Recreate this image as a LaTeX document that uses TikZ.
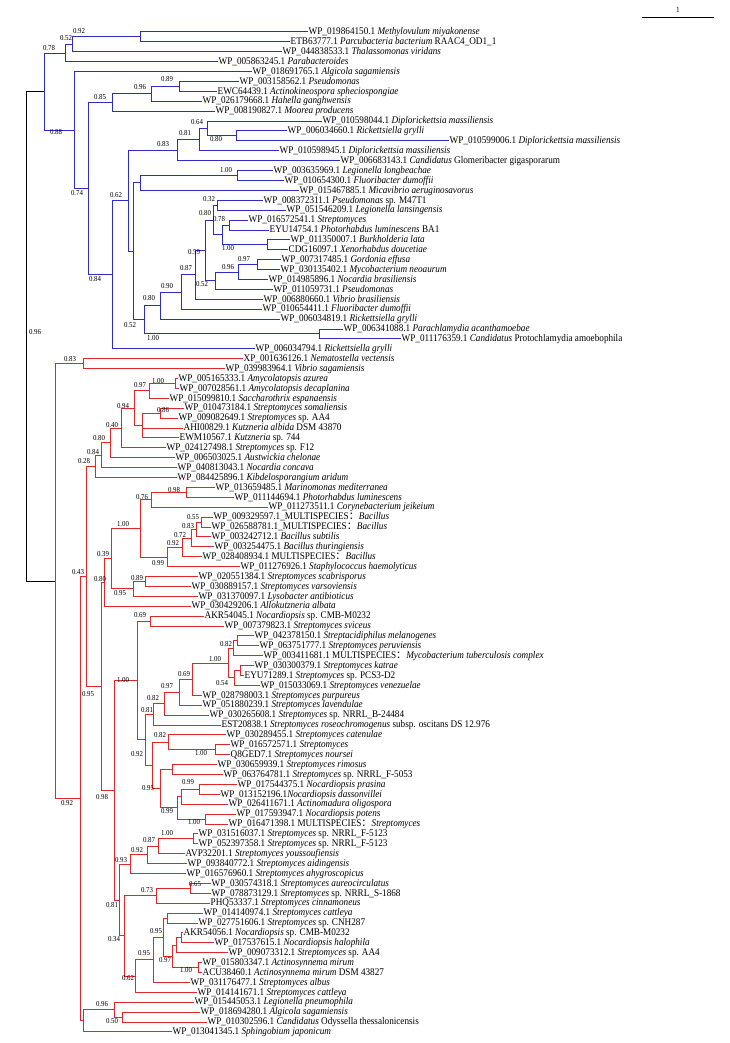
\documentclass[tikz,border=0pt]{standalone}
\usepackage{fontspec}
\setmainfont{Liberation Serif}[FakeStretch=0.9]
\newfontfamily\cjkf{Noto Sans CJK SC}
\usetikzlibrary{calc}
\definecolor{bl}{RGB}{45,45,205}
\definecolor{rd}{RGB}{225,40,40}
\newcommand\fwc{{\cjkf ：}}
\newcommand\nd[4]{\path let \p1=(#3), \p2=(#4) in coordinate (#1) at (#2pt,{0.5*(\y1+\y2)});}
\newcommand\leaf[3]{\coordinate (L#1) at (#2,{32+(#1-1)*9.9}); \node[lab] (t#1) at (L#1) {#3};}
\begin{document}
\begin{tikzpicture}[x=1pt,y=-1pt,
  lab/.style={anchor=west,inner sep=1pt,font=\fontsize{10.2}{11}\selectfont,text height=6.8pt,text depth=1.4pt},
  bs/.style={inner sep=0pt,font=\fontsize{7.6}{8}\selectfont},
  bbr/.style={draw=bl,line width=1pt},
  rbr/.style={draw=rd,line width=1pt},
  kbr/.style={draw=black,line width=1pt}]
\useasboundingbox (0,0) rectangle (730,1043);
% ---------- leaves ----------
\leaf{1}{307.5}{WP\_019864150.1 \textit{Methylovulum miyakonense}}
\leaf{2}{289.5}{ETB63777.1 \textit{Parcubacteria bacterium} RAAC4\_OD1\_1}
\leaf{3}{281.5}{WP\_044838533.1 \textit{Thalassomonas viridans}}
\leaf{4}{217.5}{WP\_005863245.1 \textit{Parabacteroides}}
\leaf{5}{251.5}{WP\_018691765.1 \textit{Algicola sagamiensis}}
\leaf{6}{238.5}{WP\_003158562.1 \textit{Pseudomonas}}
\leaf{7}{216.5}{EWC64439.1 \textit{Actinokineospora spheciospongiae}}
\leaf{8}{201.5}{WP\_026179668.1 \textit{Hahella ganghwensis}}
\leaf{9}{214.5}{WP\_008190827.1 \textit{Moorea producens}}
\leaf{10}{321.5}{WP\_010598044.1 \textit{Diplorickettsia massiliensis}}
\leaf{11}{286.5}{WP\_006034660.1 \textit{Rickettsiella grylli}}
\leaf{12}{448.5}{WP\_010599006.1 \textit{Diplorickettsia massiliensis}}
\leaf{13}{278.5}{WP\_010598945.1 \textit{Diplorickettsia massiliensis}}
\leaf{14}{339.5}{WP\_006683143.1 \textit{Candidatus} Glomeribacter gigasporarum}
\leaf{15}{272.5}{WP\_003635969.1 \textit{Legionella longbeachae}}
\leaf{16}{283.5}{WP\_010654300.1 \textit{Fluoribacter dumoffii}}
\leaf{17}{298.5}{WP\_015467885.1 \textit{Micavibrio aeruginosavorus}}
\leaf{18}{262.5}{WP\_008372311.1 \textit{Pseudomonas} sp. M47T1}
\leaf{19}{285.5}{WP\_051546209.1 \textit{Legionella lansingensis}}
\leaf{20}{247.5}{WP\_016572541.1 \textit{Streptomyces}}
\leaf{21}{268.5}{EYU14754.1 \textit{Photorhabdus luminescens} BA1}
\leaf{22}{289.5}{WP\_011350007.1 \textit{Burkholderia lata}}
\leaf{23}{287.5}{CDG16097.1 \textit{Xenorhabdus doucetiae}}
\leaf{24}{280.5}{WP\_007317485.1 \textit{Gordonia effusa}}
\leaf{25}{279.5}{WP\_030135402.1 \textit{Mycobacterium neoaurum}}
\leaf{26}{267.5}{WP\_014985896.1 \textit{Nocardia brasiliensis}}
\leaf{27}{272.5}{WP\_011059731.1 \textit{Pseudomonas}}
\leaf{28}{262.5}{WP\_006880660.1 \textit{Vibrio brasiliensis}}
\leaf{29}{261.5}{WP\_010654411.1 \textit{Fluoribacter dumoffii}}
\leaf{30}{279.5}{WP\_006034819.1 \textit{Rickettsiella grylli}}
\leaf{31}{342.5}{WP\_006341088.1 \textit{Parachlamydia acanthamoebae}}
\leaf{32}{400.5}{WP\_011176359.1 \textit{Candidatus} Protochlamydia amoebophila}
\leaf{33}{254.5}{WP\_006034794.1 \textit{Rickettsiella grylli}}
\leaf{34}{242.5}{XP\_001636126.1 \textit{Nematostella vectensis}}
\leaf{35}{224.5}{WP\_039983964.1 \textit{Vibrio sagamiensis}}
\leaf{36}{177.5}{WP\_005165333.1 \textit{Amycolatopsis azurea}}
\leaf{37}{178.5}{WP\_007028561.1 \textit{Amycolatopsis decaplanina}}
\leaf{38}{168.5}{WP\_015099810.1 \textit{Saccharothrix espanaensis}}
\leaf{39}{183.5}{WP\_010473184.1 \textit{Streptomyces somaliensis}}
\leaf{40}{177.5}{WP\_009082649.1 \textit{Streptomyces} sp. AA4}
\leaf{41}{182.5}{AHI00829.1 \textit{Kutzneria albida} DSM 43870}
\leaf{42}{178.5}{EWM10567.1 \textit{Kutzneria} sp. 744}
\leaf{43}{165.5}{WP\_024127498.1 \textit{Streptomyces} sp. F12}
\leaf{44}{174.5}{WP\_006503025.1 \textit{Austwickia chelonae}}
\leaf{45}{176.5}{WP\_040813043.1 \textit{Nocardia concava}}
\leaf{46}{176.5}{WP\_084425896.1 \textit{Kibdelosporangium aridum}}
\leaf{47}{214.5}{WP\_013659485.1 \textit{Marinomonas mediterranea}}
\leaf{48}{233.5}{WP\_011144694.1 \textit{Photorhabdus luminescens}}
\leaf{49}{267.5}{WP\_011273511.1 \textit{Corynebacterium jeikeium}}
\leaf{50}{212.5}{WP\_009329597.1\_MULTISPECIES\fwc\textit{Bacillus}}
\leaf{51}{210.5}{WP\_026588781.1\_MULTISPECIES\fwc\textit{Bacillus}}
\leaf{52}{210.5}{WP\_003242712.1 \textit{Bacillus subtilis}}
\leaf{53}{213.5}{WP\_003254475.1 \textit{Bacillus thuringiensis}}
\leaf{54}{201.5}{WP\_028408934.1 MULTISPECIES\fwc\textit{Bacillus}}
\leaf{55}{239.5}{WP\_011276926.1 \textit{Staphylococcus haemolyticus}}
\leaf{56}{197.5}{WP\_020551384.1 \textit{Streptomyces scabrisporus}}
\leaf{57}{190.5}{WP\_030889157.1 \textit{Streptomyces varsoviensis}}
\leaf{58}{197.5}{WP\_031370097.1 \textit{Lysobacter antibioticus}}
\leaf{59}{190.5}{WP\_030429206.1 \textit{Allokutzneria albata}}
\leaf{60}{203.5}{AKR54045.1 \textit{Nocardiopsis} sp. CMB-M0232}
\leaf{61}{223.5}{WP\_007379823.1 \textit{Streptomyces sviceus}}
\leaf{62}{253.5}{WP\_042378150.1 \textit{Streptacidiphilus melanogenes}}
\leaf{63}{258.5}{WP\_063751777.1 \textit{Streptomyces peruviensis}}
\leaf{64}{262.5}{WP\_003411681.1 MULTISPECIES\fwc\textit{Mycobacterium tuberculosis complex}}
\leaf{65}{253.5}{WP\_030300379.1 \textit{Streptomyces katrae}}
\leaf{66}{243.5}{EYU71289.1 \textit{Streptomyces} sp. PCS3-D2}
\leaf{67}{259.5}{WP\_015033069.1 \textit{Streptomyces venezuelae}}
\leaf{68}{201.5}{WP\_028798003.1 \textit{Streptomyces purpureus}}
\leaf{69}{201.5}{WP\_051880239.1 \textit{Streptomyces lavendulae}}
\leaf{70}{208.5}{WP\_030265608.1 \textit{Streptomyces} sp. NRRL\_B-24484}
\leaf{71}{220.5}{EST20838.1 \textit{Streptomyces roseochromogenus} subsp. oscitans DS 12.976}
\leaf{72}{225.5}{WP\_030289455.1 \textit{Streptomyces catenulae}}
\leaf{73}{229.5}{WP\_016572571.1 \textit{Streptomyces}}
\leaf{74}{229.5}{Q8GED7.1 \textit{Streptomyces noursei}}
\leaf{75}{216.5}{WP\_030659939.1 \textit{Streptomyces rimosus}}
\leaf{76}{222.5}{WP\_063764781.1 \textit{Streptomyces} sp. NRRL\_F-5053}
\leaf{77}{236.5}{WP\_017544375.1 \textit{Nocardiopsis prasina}}
\leaf{78}{219.5}{WP\_013152196.1\textit{Nocardiopsis dassonvillei}}
\leaf{79}{227.5}{WP\_026411671.1 \textit{Actinomadura oligospora}}
\leaf{80}{235.5}{WP\_017593947.1 \textit{Nocardiopsis potens}}
\leaf{81}{227.5}{WP\_016471398.1 MULTISPECIES\fwc\textit{Streptomyces}}
\leaf{82}{197.5}{WP\_031516037.1 \textit{Streptomyces} sp. NRRL\_F-5123}
\leaf{83}{197.5}{WP\_052397358.1 \textit{Streptomyces} sp. NRRL\_F-5123}
\leaf{84}{184.5}{AVP32201.1 \textit{Streptomyces youssoufiensis}}
\leaf{85}{186.5}{WP\_093840772.1 \textit{Streptomyces aidingensis}}
\leaf{86}{185.5}{WP\_016576960.1 \textit{Streptomyces ahygroscopicus}}
\leaf{87}{210.5}{WP\_030574318.1 \textit{Streptomyces aureocirculatus}}
\leaf{88}{210.5}{WP\_078873129.1 \textit{Streptomyces} sp. NRRL\_S-1868}
\leaf{89}{209.5}{PHQ53337.1 \textit{Streptomyces cinnamoneus}}
\leaf{90}{202.5}{WP\_014140974.1 \textit{Streptomyces cattleya}}
\leaf{91}{197.5}{WP\_027751606.1 \textit{Streptomyces} sp. CNH287}
\leaf{92}{182.5}{AKR54056.1 \textit{Nocardiopsis} sp. CMB-M0232}
\leaf{93}{213.5}{WP\_017537615.1 \textit{Nocardiopsis halophila}}
\leaf{94}{227.5}{WP\_009073312.1 \textit{Streptomyces} sp. AA4}
\leaf{95}{201.5}{WP\_015803347.1 \textit{Actinosynnema mirum}}
\leaf{96}{201.5}{ACU38460.1 \textit{Actinosynnema mirum} DSM 43827}
\leaf{97}{189.5}{WP\_031176477.1 \textit{Streptomyces albus}}
\leaf{98}{196.5}{WP\_014141671.1 \textit{Streptomyces cattleya}}
\leaf{99}{193.5}{WP\_015445053.1 \textit{Legionella pneumophila}}
\leaf{100}{199.5}{WP\_018694280.1 \textit{Algicola sagamiensis}}
\leaf{101}{206.5}{WP\_010302596.1 \textit{Candidatus} Odyssella thessalonicensis}
\leaf{102}{171.5}{WP\_013041345.1 \textit{Sphingobium japonicum}}
% ---------- internal nodes: blue ----------
\nd{bA}{140}{L1}{L2}
\nd{bB}{72}{bA}{L3}
\nd{bC}{65}{bB}{L4}
\nd{b089}{179}{L6}{L7}
\nd{b096}{151}{b089}{L8}
\nd{b085}{112}{b096}{L9}
\nd{bV}{236}{L11}{L12}
\nd{b064}{207}{L10}{bV}
\nd{b081}{199}{b064}{L13}
\nd{b083}{177}{b081}{L14}
\nd{bI}{237}{L15}{L16}
\nd{bJ}{140}{bI}{L17}
\nd{bR}{217}{L18}{L19}
\nd{bS}{229}{L20}{L21}
\nd{bT}{267}{L22}{L23}
\nd{bU}{222}{bS}{bT}
\nd{bQ}{213}{bR}{bU}
\nd{bM}{257}{L24}{L25}
\nd{bN}{238}{bM}{L26}
\nd{bO}{215}{bN}{L27}
\nd{bP}{205}{bQ}{bO}
\nd{bW}{195}{bP}{L28}
\nd{bX}{181}{bW}{L29}
\nd{bY}{160}{bX}{L30}
\nd{bAA}{319}{L31}{L32}
\nd{bZ}{144}{bY}{bAA}
\nd{bL}{133}{bJ}{bZ}
\nd{bK}{128}{b083}{bL}
\nd{bH}{112}{bK}{L33}
\nd{bG}{88}{b085}{bH}
\nd{bE}{74}{L5}{bG}
\nd{bD}{44}{bC}{bE}
% ---------- internal nodes: red ----------
\nd{rRA}{83}{L34}{L35}
\nd{rRF}{175}{L36}{L37}
\nd{rRG}{149}{rRF}{L38}
\nd{rRH}{160}{L39}{L40}
\nd{rRK}{142}{rRH}{L42}
\nd{rRJ}{134}{rRG}{rRK}
\nd{rX43}{121}{rRJ}{L43}
\nd{rX44}{110}{rX43}{L44}
\nd{rX45}{101}{rX44}{L45}
\nd{rX46}{95}{rX45}{L46}
\nd{rRM}{186}{L47}{L48}
\nd{rRN}{151}{rRM}{L49}
\nd{rRO}{201}{L50}{L51}
\nd{rRP}{196}{rRO}{L52}
\nd{rRQ}{191}{rRP}{L53}
\nd{rRS}{182}{rRQ}{L54}
\nd{rRT}{167}{rRS}{L55}
\nd{rRU}{140}{rRN}{rRT}
\nd{rRV}{145}{L56}{L57}
\nd{rRW}{133}{rRV}{L58}
\nd{rRX}{111}{rRU}{rRW}
\nd{rRY}{104}{rRX}{L59}
\nd{rS1}{150}{L60}{L61}
\nd{rS2}{237}{L62}{L63}
\nd{rS3}{233}{rS2}{L64}
\nd{rS5}{240}{L65}{L66}
\nd{rS6}{234}{rS5}{L67}
\nd{rS4}{228}{rS3}{rS6}
\nd{rS7}{192}{rS4}{L68}
\nd{rS8}{179}{rS7}{L69}
\nd{rS9}{164}{rS8}{L70}
\nd{rS10}{153}{rS9}{L71}
\nd{rS12}{215}{L73}{L74}
\nd{rS11}{168}{L72}{rS12}
\nd{rS14}{172}{L75}{L76}
\nd{rS17}{199}{L77}{L78}
\nd{rS18}{181}{rS17}{L79}
\nd{rS19}{205}{L80}{L81}
\nd{rS16}{177}{rS18}{rS19}
\nd{rS20}{160}{rS14}{rS16}
\nd{rS13}{152}{rS11}{rS20}
\nd{rS22}{145}{rS10}{rS13}
\nd{rN100}{137}{rS1}{rS22}
\nd{rT1}{193}{L82}{L83}
\nd{rT2}{158}{rT1}{L84}
\nd{rT3}{147}{rT2}{L85}
\nd{rT4}{130}{rT3}{L86}
\nd{rT5}{190}{L87}{L88}
\nd{rT6}{156}{rT5}{L89}
\nd{rT8}{167}{L90}{L91}
\nd{rT9a}{181}{L92}{L93}
\nd{rT9b}{176}{rT9a}{L94}
\nd{rT10}{198}{L95}{L96}
\nd{rT97}{172}{rT9b}{rT10}
\nd{rT95c}{163}{rT8}{rT97}
\nd{rT95b}{153}{rT95c}{L97}
\nd{rT62}{135}{rT95b}{L98}
\nd{rT34}{124}{rT6}{rT62}
\nd{rT7}{119}{rT4}{rT34}
\nd{rN98}{114}{rN100}{rT7}
\nd{rN95}{101}{rRY}{rN98}
\nd{rN43}{86}{rX46}{rN95}
\nd{rRE}{122}{L100}{L101}
\nd{rRD}{114}{L99}{rRE}
\nd{rRB2}{83}{rRD}{L102}
\nd{rRB}{80}{rN43}{rRB2}
\nd{rRR}{55}{rRA}{rRB}
\nd{root}{26}{bD}{rRR}
% ---------- branches ----------
\foreach \p/\c in {root/bD,root/rRR} \draw[kbr] (\p) |- (\c);
\foreach \p/\c in {bA/L1,bA/L2,bB/bA,bB/L3,bC/bB,bC/L4,bD/bC,bD/bE,bE/L5,bE/bG,bG/b085,bG/bH,
  b085/b096,b085/L9,b096/b089,b096/L8,b089/L6,b089/L7,bH/bK,bH/L33,bK/b083,bK/bL,
  b083/b081,b083/L14,b081/b064,b081/L13,b064/L10,b064/bV,bV/L11,bV/L12,bL/bJ,bL/bZ,
  bJ/bI,bJ/L17,bI/L15,bI/L16,bZ/bY,bZ/bAA,bAA/L31,bAA/L32,bY/bX,bY/L30,bX/bW,bX/L29,
  bW/bP,bW/L28,bP/bQ,bP/bO,bQ/bR,bQ/bU,bR/L18,bR/L19,bU/bS,bU/bT,bS/L20,bS/L21,
  bT/L22,bT/L23,bO/bN,bO/L27,bN/bM,bN/L26,bM/L24,bM/L25}
  \draw[bbr] (\p) |- (\c);
\foreach \p/\c in {rRR/rRA,rRR/rRB,rRA/L34,rRA/L35,rRB/rN43,rRB/rRB2,rRB2/rRD,rRB2/L102,
  rRD/L99,rRD/rRE,rRE/L100,rRE/L101,rN43/rX46,rN43/rN95,
  rX46/rX45,rX46/L46,rX45/rX44,rX45/L45,rX44/rX43,rX44/L44,rX43/rRJ,rX43/L43,
  rRJ/rRG,rRJ/rRK,rRG/rRF,rRG/L38,rRF/L36,rRF/L37,rRK/rRH,rRK/L41,rRK/L42,rRH/L39,rRH/L40,
  rN95/rRY,rN95/rN98,rRY/rRX,rRY/L59,rRX/rRU,rRX/rRW,rRU/rRN,rRU/rRT,rRN/rRM,rRN/L49,
  rRM/L47,rRM/L48,rRT/rRS,rRT/L55,rRS/rRQ,rRS/L54,rRQ/rRP,rRQ/L53,rRP/rRO,rRP/L52,
  rRO/L50,rRO/L51,rRW/rRV,rRW/L58,rRV/L56,rRV/L57,
  rN98/rN100,rN98/rT7,rN100/rS1,rN100/rS22,rS1/L60,rS1/L61,rS22/rS10,rS22/rS13,
  rS10/rS9,rS10/L71,rS9/rS8,rS9/L70,rS8/rS7,rS8/L69,rS7/rS4,rS7/L68,rS4/rS3,rS4/rS6,
  rS3/rS2,rS3/L64,rS2/L62,rS2/L63,rS6/rS5,rS6/L67,rS5/L65,rS5/L66,
  rS13/rS11,rS13/rS20,rS11/L72,rS11/rS12,rS12/L73,rS12/L74,rS20/rS14,rS20/rS16,
  rS14/L75,rS14/L76,rS16/rS18,rS16/rS19,rS18/rS17,rS18/L79,rS17/L77,rS17/L78,rS19/L80,rS19/L81,
  rT7/rT4,rT7/rT34,rT4/rT3,rT4/L86,rT3/rT2,rT3/L85,rT2/rT1,rT2/L84,rT1/L82,rT1/L83,
  rT34/rT6,rT34/rT62,rT6/rT5,rT6/L89,rT5/L87,rT5/L88,rT62/rT95b,rT62/L98,
  rT95b/rT95c,rT95b/L97,rT95c/rT8,rT95c/rT97,rT8/L90,rT8/L91,rT97/rT9b,rT97/rT10,
  rT9b/rT9a,rT9b/L94,rT9a/L92,rT9a/L93,rT10/L95,rT10/L96}
  \draw[rbr] (\p) |- (\c);
% ---------- support values ----------
\foreach \x/\y/\t [count=\i] in {79/31/0.92,66/38/0.52,49/48/0.78,167/79/0.89,140/87/0.96,
  100/97/0.85,56/132/0.88,197/122/0.64,185/133/0.81,216/139/0.80,163/144/0.83,226/170/1.00,
  77/193/0.74,116/195/0.62,209/199/0.32,205/213/0.80,219/219/0.78,228/248/1.00,194/252/0.59,
  244/259/0.97,228/267/0.96,186/268/0.87,95/279/0.84,202/284/0.52,167/286/0.90,149/298/0.80,
  130/325/0.52,35/332/0.96,153/338/1.00,
  70/359/0.83,158/381/1.00,140/385/0.97,123/406/0.94,163/410/0.86,112/425/0.40,99/438/0.80,
  93/452/0.84,84/461/0.28,174/490/0.98,142/497/0.76,193/517/0.55,123/524/1.00,188/526/0.83,
  180/535/0.72,173/543/0.92,103/554/0.39,158/563/0.99,78/572/0.43,100/579/0.80,137/578/0.89,
  120/593/0.95,140/615/0.69,226/644/0.82,215/659/1.00,184/674/0.69,123/680/1.00,222/683/0.54,
  167/686/0.97,88/694/0.95,153/698/0.82,147/710/0.81,160/735/0.82,201/753/1.00,137/754/0.92,
  188/782/0.99,148/788/0.95,102/797/0.98,67/803/0.92,167/811/0.99,194/822/1.00,167/833/1.00,
  149/840/0.87,137/850/0.92,121/860/0.93,195/884/0.65,147/890/0.73,112/905/0.81,156/931/0.95,
  114/939/0.34,144/953/0.95,165/960/0.97,186/970/1.00,128/978/0.62,102/1004/0.96,112/1021/0.50}
  \node[bs] (s\i) at (\x,\y) {\t};
% ---------- scale bar ----------
\coordinate (sb1) at (642,17);
\coordinate (sb2) at (714,17);
\draw[line width=0.9pt] (sb1) -- (sb2);
\node[bs,font=\fontsize{8}{9}\selectfont] (sbl) at (678,10) {1};
\end{tikzpicture}
\end{document}
